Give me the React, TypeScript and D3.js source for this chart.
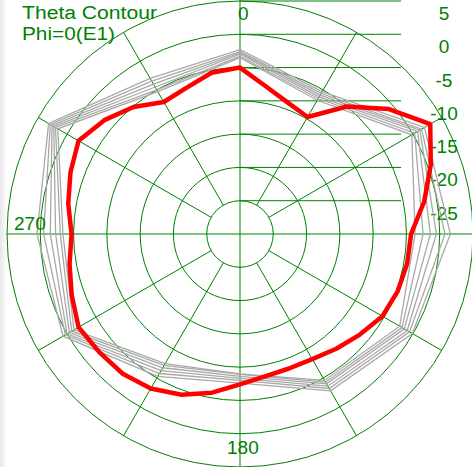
import React, { useEffect, useRef } from "react";
import * as d3 from "d3";

// ring levels (dB) and their labels on the right
const ringLevels = [-25, -20, -15, -10, -5, 0, 5];
const ringLabels = ["-25", "-20", "-15", "-10", "-5", "0", "5"];
const spokeAngles = [30, 60, 120, 150, 210, 240, 300, 330];

// red trace, every 10 deg
const redAngles = [0, 10, 20, 30, 40, 50, 60, 70, 80, 90, 100, 110, 120, 130, 140, 150, 160, 170,
    180, 190, 200, 210, 220, 230, 240, 250, 260, 270, 280, 290, 300, 310, 320, 330, 340, 350];
const redValues = [-5.0, -7.5, -9.0, -9.7, -5.0, -0.8, 3.0, 0.5, -1.9, -4.3, -4.5, -4.8, -5.3, -6.5, -7.5, -8.3, -8.5, -8.3,
    -7.4, -5.8, -4.3, -3.2, -2.6, -2.4, -2.0, -3.1, -4.0, -4.7, -3.8, -2.9, -2.0, -3.4, -5.1, -7.1, -6.6, -5.4];

// gray traces, every 30 deg
const grayAngles = [0, 30, 60, 90, 120, 150, 180, 210, 240, 270, 300, 330];
const gray1 = [-2.3, -5.3, 2.0, 1.6, -0.1, -2.8, -7.6, -5.3, 0.7, 0.5, 3.2, -3.0];
const gray2 = [-2.6, -5.6, 1.5, 0.8, -0.6, -3.2, -8.0, -5.8, 0.3, -0.5, 2.9, -3.5];
const gray3 = [-2.8, -5.9, 1.2, -0.5, -1.0, -3.6, -8.3, -6.3, 0.0, -1.5, 2.6, -4.0];
const gray4 = [-3.0, -6.2, 0.8, -1.4, -1.5, -4.0, -8.6, -6.8, -0.4, -2.3, 2.3, -4.5];
const gray5 = [-3.3, -6.5, 0.3, -2.5, -1.9, -4.3, -8.9, -7.2, -0.8, -3.0, 2.0, -5.0];
const gray6 = [-3.5, -6.8, -0.2, -3.7, -2.3, -4.6, -9.0, -7.5, -1.2, -3.4, 1.6, -5.3];
const grayTraces = [gray1, gray2, gray3, gray4, gray5, gray6];

export default function App() {
    const svgRef = useRef<SVGSVGElement>(null);
    const W = 472, H = 467;
    const cx = 240, cy = 234;
    const green = "#008000";

    useEffect(() => {
        const svg = d3.select(svgRef.current);
        svg.selectAll("*").remove();

        const rScale = d3.scaleLinear().domain([-30, 5]).range([0, 233]);
        const rad = (a: number) => (a * Math.PI) / 180;

        // faint gray strip on left edge
        const defs = svg.append("defs");
        const grad = defs.append("linearGradient").attr("id", "edge").attr("x1", 0).attr("x2", 1);
        grad.append("stop").attr("offset", 0).attr("stop-color", "#e6e6e6");
        grad.append("stop").attr("offset", 1).attr("stop-color", "#ffffff");
        svg.append("rect").attr("width", W).attr("height", H).attr("fill", "white");
        svg.append("rect").attr("width", 7).attr("height", H).attr("fill", "url(#edge)");

        const g = svg.append("g").attr("transform", `translate(${cx},${cy})`);

        // rings
        g.selectAll(".ring")
            .data(ringLevels)
            .join("circle")
            .attr("r", d => rScale(d))
            .attr("fill", "none")
            .attr("stroke", green)
            .attr("stroke-width", 1);

        // spokes
        const rIn = rScale(ringLevels[0]);
        const rOut = rScale(ringLevels[ringLevels.length - 1]);
        g.selectAll(".spoke")
            .data(spokeAngles)
            .join("line")
            .attr("x1", d => rIn * Math.sin(rad(d)))
            .attr("y1", d => -rIn * Math.cos(rad(d)))
            .attr("x2", d => rOut * Math.sin(rad(d)))
            .attr("y2", d => -rOut * Math.cos(rad(d)))
            .attr("stroke", green);

        // main axes
        g.append("line").attr("x1", 0).attr("x2", 0).attr("y1", -rOut - 2).attr("y2", rOut + 2).attr("stroke", green);
        g.append("line").attr("x1", -rOut).attr("x2", rOut).attr("y1", 0).attr("y2", 0).attr("stroke", green);

        // scale lines on the right
        g.selectAll(".hline")
            .data(ringLevels)
            .join("line")
            .attr("x1", 0)
            .attr("x2", 161)
            .attr("y1", d => -rScale(d))
            .attr("y2", d => -rScale(d))
            .attr("stroke", green);

        g.selectAll(".rlabel")
            .data(ringLevels)
            .join("text")
            .attr("x", 204)
            .attr("y", d => -rScale(d) + 19)
            .attr("text-anchor", "middle")
            .attr("font-family", "Liberation Sans, Arial, sans-serif")
            .attr("font-size", 19)
            .attr("fill", green)
            .text((d, i) => ringLabels[i]);

        // gray traces
        const grayLine = d3.lineRadial<number>()
            .angle((d, i) => rad(grayAngles[i]))
            .radius(d => rScale(d))
            .curve(d3.curveLinearClosed);
        g.selectAll(".gray")
            .data(grayTraces)
            .join("path")
            .attr("d", d => grayLine(d))
            .attr("fill", "none")
            .attr("stroke", "#a8a8a8")
            .attr("stroke-width", 1.3);

        // red trace
        const redLine = d3.lineRadial<number>()
            .angle((d, i) => rad(redAngles[i]))
            .radius(d => rScale(d))
            .curve(d3.curveLinearClosed);
        g.append("path")
            .attr("d", redLine(redValues))
            .attr("fill", "none")
            .attr("stroke", "#ff0000")
            .attr("stroke-width", 4.5)
            .attr("stroke-linejoin", "round");

        // angle labels
        const lab = (t: string, x: number, y: number) =>
            svg.append("text")
                .attr("x", x).attr("y", y)
                .attr("font-family", "Liberation Sans, Arial, sans-serif")
                .attr("font-size", 19)
                .attr("fill", green)
                .text(t);
        lab("0", 238, 20);
        lab("270", 14, 230);
        lab("180", 227, 454);

        // title
        svg.append("text").attr("x", 22).attr("y", 19)
            .attr("font-family", "Liberation Sans, Arial, sans-serif")
            .attr("font-size", 18).attr("fill", green)
            .attr("textLength", 135).attr("lengthAdjust", "spacingAndGlyphs")
            .text("Theta Contour");
        svg.append("text").attr("x", 22).attr("y", 40)
            .attr("font-family", "Liberation Sans, Arial, sans-serif")
            .attr("font-size", 18).attr("fill", green)
            .attr("textLength", 93).attr("lengthAdjust", "spacingAndGlyphs")
            .text("Phi=0(E1)");
    }, []);

    return (
        <svg ref={svgRef} width={W} height={H}
             style={{position: "absolute", left: 0, top: 0, display: "block"}} />
    );
}
